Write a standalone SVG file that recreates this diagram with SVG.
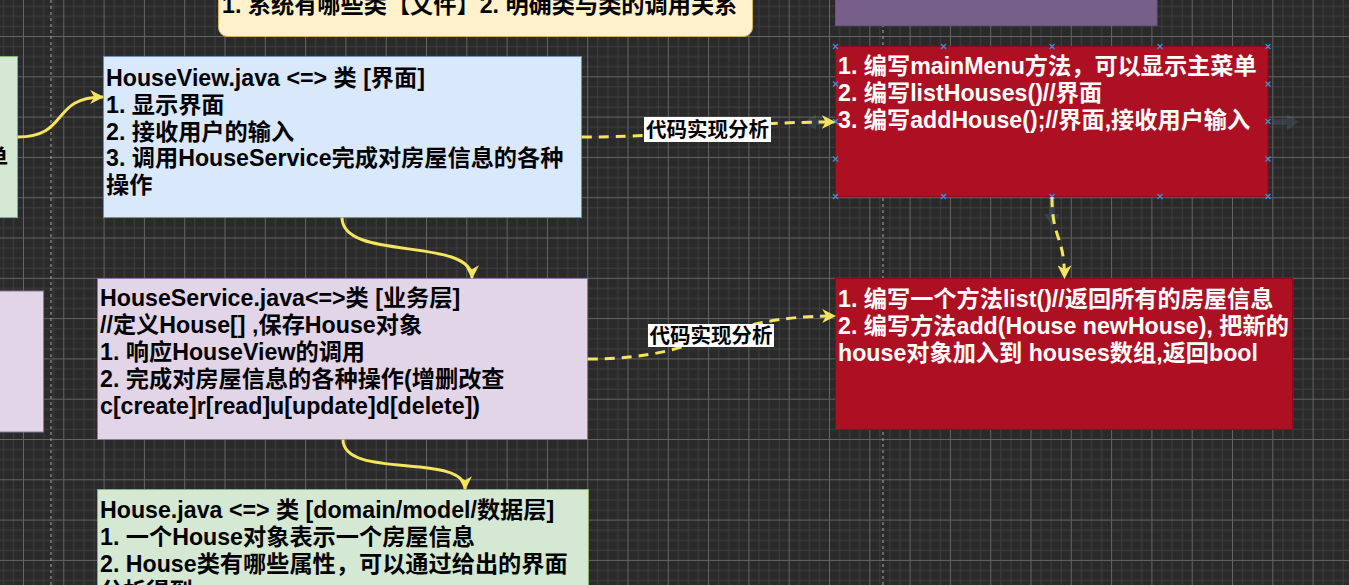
<svg xmlns="http://www.w3.org/2000/svg" width="1349" height="585" viewBox="0 0 1349 585">
  <style>
    .t { font-family: 'Liberation Sans', 'Noto Sans CJK SC', sans-serif; font-weight: bold; font-size: 23.2px; fill: #000; }
    .w { fill: #fff; }
    .lbl { font-family: 'Liberation Sans', 'Noto Sans CJK SC', sans-serif; font-weight: bold; font-size: 20.5px; fill: #000; }
    .solid { fill: none; stroke: #f4e45f; stroke-width: 3; }
    .dash { fill: none; stroke: #f4e45f; stroke-width: 3; stroke-dasharray: 10 7; }
    .pb { stroke: #a8a8a8; stroke-width: 1; stroke-dasharray: 3 3; }
    .xm { stroke: #3f8fd8; stroke-width: 1.3; fill: none; }
    .hov { fill: #6a8db0; opacity: 0.2; }
  </style>
  <defs>
    <pattern id="grid" patternUnits="userSpaceOnUse" x="23" y="36" width="40.3" height="40.3">
      <rect width="40.3" height="40.3" fill="#2a2a2a"/>
      <rect x="10.075" y="0" width="1" height="40.3" fill="#3e3e3e"/>
      <rect x="20.15" y="0" width="1" height="40.3" fill="#3e3e3e"/>
      <rect x="30.225" y="0" width="1" height="40.3" fill="#3e3e3e"/>
      <rect x="0" y="10.075" width="40.3" height="1" fill="#3e3e3e"/>
      <rect x="0" y="20.15" width="40.3" height="1" fill="#3e3e3e"/>
      <rect x="0" y="30.225" width="40.3" height="1" fill="#3e3e3e"/>
      <rect x="0" y="0" width="1" height="40.3" fill="#646464"/>
      <rect x="0" y="0" width="40.3" height="1" fill="#646464"/>
    </pattern>
    <marker id="arr" viewBox="0 0 12 12" refX="11" refY="6" markerWidth="14" markerHeight="14" markerUnits="userSpaceOnUse" orient="auto">
      <path d="M0,0 L12,6 L0,12 L3.5,6 Z" fill="#f4e45f"/>
    </marker>
  </defs>

  <rect x="0" y="0" width="1349" height="585" fill="url(#grid)"/>
  <line class="pb" x1="51" y1="0" x2="51" y2="585"/>
  <line class="pb" x1="883" y1="0" x2="883" y2="585"/>

  <g id="node-top-note">
    <rect x="218.5" y="-20" width="534" height="56.5" rx="9" fill="#fff2cc" stroke="#d6b656"/>
    <text class="t" x="222" y="13">1. 系统有哪些类【文件】2. 明确类与类的调用关系</text>
  </g>

  <g id="node-top-purple">
    <rect x="835.5" y="-20" width="321.5" height="45.5" fill="#76608a" stroke="#6a557e"/>
  </g>

  <g id="node-left-green">
    <rect x="-20" y="56.5" width="37.5" height="161" fill="#d5e8d4" stroke="#82b366"/>
    <text class="t" x="-15" y="166">单</text>
  </g>

  <g id="node-left-purple">
    <rect x="-20" y="291" width="63.5" height="141" fill="#e1d5e7" stroke="#9673a6"/>
  </g>

  <g id="node-houseview">
    <rect x="103.5" y="56.5" width="478" height="161" fill="#dae8fc" stroke="#6c8ebf"/>
    <text class="t">
      <tspan x="106" y="86">HouseView.java &lt;=&gt; 类 [界面]</tspan>
      <tspan x="106" y="112.8">1. 显示界面</tspan>
      <tspan x="106" y="139.6">2. 接收用户的输入</tspan>
      <tspan x="106" y="166.4">3. 调用HouseService完成对房屋信息的各种</tspan>
      <tspan x="106" y="193.2">操作</tspan>
    </text>
  </g>

  <g id="node-houseservice">
    <rect x="97.5" y="278.5" width="490" height="161" fill="#e1d5e7" stroke="#9673a6"/>
    <text class="t">
      <tspan x="100" y="306">HouseService.java&lt;=&gt;类 [业务层]</tspan>
      <tspan x="100" y="333">//定义House[] ,保存House对象</tspan>
      <tspan x="100" y="360">1. 响应HouseView的调用</tspan>
      <tspan x="100" y="387">2. 完成对房屋信息的各种操作(增删改查</tspan>
      <tspan x="100" y="414">c[create]r[read]u[update]d[delete])</tspan>
    </text>
  </g>

  <g id="node-house">
    <rect x="97.5" y="489.5" width="491" height="160" fill="#d5e8d4" stroke="#82b366"/>
    <text class="t">
      <tspan x="100" y="518">House.java &lt;=&gt; 类 [domain/model/数据层]</tspan>
      <tspan x="100" y="545">1. 一个House对象表示一个房屋信息</tspan>
      <tspan x="100" y="572">2. House类有哪些属性，可以通过给出的界面</tspan>
      <tspan x="100" y="599">分析得到</tspan>
    </text>
  </g>

  <g id="node-red-view">
    <path class="hov" d="M1273,119 h14 v-5 l12,8 l-12,8 v-5 h-14 z"/>
    <path class="hov" d="M828,119 h-12 v-5 l-12,8 l12,8 v-5 h12 z"/>
    <path class="hov" d="M1049,200 v14 h-5 l8,12 l8,-12 h-5 v-14 z"/>
    <rect x="835.5" y="46.5" width="432.5" height="150" fill="#ad1022" stroke="#8a0c1b"/>
    <text class="t w">
      <tspan x="838" y="74">1. 编写mainMenu方法，可以显示主菜单</tspan>
      <tspan x="838" y="100.8">2. 编写listHouses()//界面</tspan>
      <tspan x="838" y="127.6">3. 编写addHouse();//界面,接收用户输入</tspan>
    </text>
    <g class="xm">
      <path d="M833,44 l5,5 M838,44 l-5,5"/>
      <path d="M833,81.5 l5,5 M838,81.5 l-5,5"/>
      <path d="M833,119 l5,5 M838,119 l-5,5"/>
      <path d="M833,156.5 l5,5 M838,156.5 l-5,5"/>
      <path d="M833,194 l5,5 M838,194 l-5,5"/>
      <path d="M1265.5,44 l5,5 M1270.5,44 l-5,5"/>
      <path d="M1265.5,81.5 l5,5 M1270.5,81.5 l-5,5"/>
      <path d="M1265.5,119 l5,5 M1270.5,119 l-5,5"/>
      <path d="M1265.5,156.5 l5,5 M1270.5,156.5 l-5,5"/>
      <path d="M1265.5,194 l5,5 M1270.5,194 l-5,5"/>
      <path d="M941,44 l5,5 M946,44 l-5,5"/>
      <path d="M1049.5,44 l5,5 M1054.5,44 l-5,5"/>
      <path d="M1157.5,44 l5,5 M1162.5,44 l-5,5"/>
      <path d="M941,194 l5,5 M946,194 l-5,5"/>
      <path d="M1049.5,194 l5,5 M1054.5,194 l-5,5"/>
      <path d="M1157.5,194 l5,5 M1162.5,194 l-5,5"/>
    </g>
  </g>

  <g id="node-red-service">
    <rect x="835.5" y="278.5" width="457" height="151" fill="#ad1022" stroke="#8a0c1b"/>
    <text class="t w">
      <tspan x="838" y="307">1. 编写一个方法list()//返回所有的房屋信息</tspan>
      <tspan x="838" y="334">2. 编写方法add(House newHouse), 把新的</tspan>
      <tspan x="838" y="361">house对象加入到 houses数组,返回bool</tspan>
    </text>
  </g>

  <g id="connectors">
    <path class="solid" d="M17.5,137 C70,137 50,97 103,97" marker-end="url(#arr)"/>
    <path class="solid" d="M342,217.5 C342,262 472,236 472,278" marker-end="url(#arr)"/>
    <path class="solid" d="M343,439.5 C343,480 465,452 465,489" marker-end="url(#arr)"/>
    <path class="dash" d="M581.5,137 C708,137 708,122 834.5,122" marker-end="url(#arr)"/>
    <path class="dash" d="M587.5,359 C711,359 711,316 835,316" marker-end="url(#arr)"/>
    <path class="dash" d="M1052,197 C1052,240 1064.5,235 1064.5,278" marker-end="url(#arr)"/>
    <g id="label-view">
      <rect x="644" y="117" width="127" height="25" fill="#fff"/>
      <text class="lbl" x="707.5" y="137" text-anchor="middle">代码实现分析</text>
    </g>
    <g id="label-service">
      <rect x="648" y="324" width="126" height="23" fill="#fff"/>
      <text class="lbl" x="711" y="343" text-anchor="middle">代码实现分析</text>
    </g>
  </g>
</svg>
